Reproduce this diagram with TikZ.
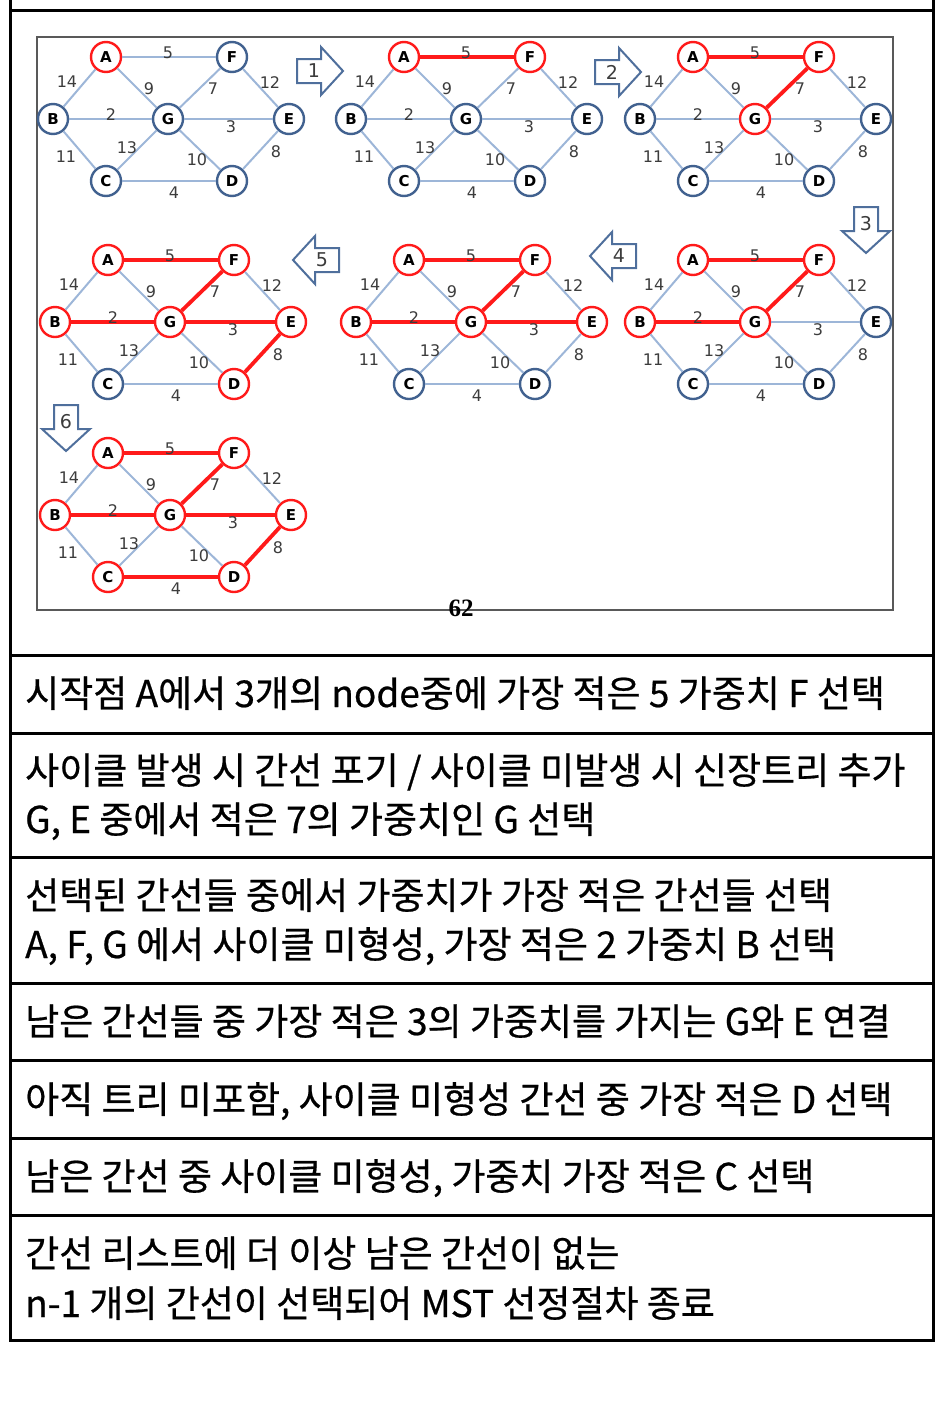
\documentclass[tikz,border=0pt]{standalone}
\usepackage{fontspec}
\setmainfont{DejaVu Sans}
\newfontfamily\krfont[FakeBold=0.6]{Noto Sans CJK KR}
\newfontfamily\pagefont{Liberation Serif}

\definecolor{vtxblue}{HTML}{41618F}
\definecolor{edgeblue}{HTML}{9DB6D8}
\definecolor{mstred}{HTML}{FF1A1A}
\definecolor{wgray}{HTML}{3C3C3C}
\definecolor{arrowblue}{HTML}{4F6F9C}

\tikzset{
  vtx/.style={circle,fill=white,line width=2.4pt,minimum size=30pt,inner sep=0pt,
    font=\fontsize{15}{15}\selectfont\bfseries},
  bnode/.style={vtx,draw=vtxblue},
  rnode/.style={vtx,draw=mstred},
  bedge/.style={draw=edgeblue,line width=2pt},
  redge/.style={draw=mstred,line width=3.8pt},
  weight/.style={text=wgray,inner sep=0pt,font=\fontsize{16}{16}\selectfont},
  steparr/.style={draw=arrowblue,fill=white,line width=2pt},
  steplabel/.style={text=wgray,inner sep=0pt,font=\fontsize{19}{19}\selectfont},
  rowtext/.style={anchor=base west,inner sep=0pt,font=\krfont\fontsize{37}{37}\selectfont},
  rule/.style={line width=3pt,line cap=rect},
  % every vertex and edge starts blue
  plainv/.style={n#1/.style=bnode}, plainv/.list={A,B,C,D,E,F,G},
  plaine/.style={e#1/.style=bedge}, plaine/.list={AF,AB,AG,FG,FE,BG,GE,CG,BC,GD,DE,CD},
  pickv/.style={n#1/.style=rnode}, red nodes/.style={pickv/.list={#1}},
  picke/.style={e#1/.style=redge}, red edges/.style={picke/.list={#1}},
}

% one state of the graph: prefix, position of A, options
\newcommand\mstgraph[3]{%
  \begin{scope}[shift={#2},#3]
    \node[nA] (#1A) at (0,0) {A};
    \node[nF] (#1F) at (126,0) {F};
    \node[nB] (#1B) at (-53,62) {B};
    \node[nG] (#1G) at (62,62) {G};
    \node[nE] (#1E) at (183,62) {E};
    \node[nC] (#1C) at (0,124) {C};
    \node[nD] (#1D) at (126,124) {D};
    \foreach \u/\v/\w/\lx/\ly in {A/F/5/62/-4, A/B/14/-39/25, A/G/9/43/32,
        F/G/7/107/32, F/E/12/164/26, B/G/2/5/58, G/E/3/125/70, C/G/13/21/91,
        B/C/11/-40/100, G/D/10/91/103, D/E/8/170/95, C/D/4/68/136}
      {\path[e\u\v] (#1\u) -- (#1\v);
       \node[weight] (#1w\w) at (\lx,\ly) {\w};}
  \end{scope}}

% block arrow between states: name, centre, angle, label
\newcommand\steparrow[4]{%
  \begin{scope}[shift={#2},rotate=#3]
    \draw[steparr] (-23,-12) -- (1,-12) -- (1,-24) -- (23,0) -- (1,24) -- (1,12) -- (-23,12) -- cycle;
    \node[steplabel] (#1) at (-6,0) {#4};
  \end{scope}}

\begin{document}
\begin{tikzpicture}[x=1pt,y=-1pt]
  \useasboundingbox (0,0) rectangle (944,1414);

  % table
  \foreach \ry in {10,655,733,857,983,1060,1138,1215,1340}
    \draw[rule] (10,\ry) -- (933,\ry);
  \draw[rule] (10,0) -- (10,1340) (933,0) -- (933,1340);

  % slide
  \draw[line width=1.3pt,draw=black!65] (37,37) rectangle (893,610);
  \node[inner sep=0pt,font=\pagefont\bfseries\fontsize{25}{25}\selectfont] (pageno) at (461,608) {62};

  \mstgraph{g0}{(106,57)}{red nodes={A}}
  \mstgraph{g1}{(404,57)}{red nodes={A,F}, red edges={AF}}
  \mstgraph{g2}{(693,57)}{red nodes={A,F,G}, red edges={AF,FG}}
  \mstgraph{g3}{(693,260)}{red nodes={A,F,G,B}, red edges={AF,FG,BG}}
  \mstgraph{g4}{(409,260)}{red nodes={A,F,G,B,E}, red edges={AF,FG,BG,GE}}
  \mstgraph{g5}{(108,260)}{red nodes={A,F,G,B,E,D}, red edges={AF,FG,BG,GE,DE}}
  \mstgraph{g6}{(108,453)}{red nodes={A,F,G,B,E,D,C}, red edges={AF,FG,BG,GE,DE,CD}}

  \steparrow{arr1}{(320,71)}{0}{1}
  \steparrow{arr2}{(618,72)}{0}{2}
  \steparrow{arr3}{(866,230)}{-90}{3}
  \steparrow{arr4}{(613,256)}{180}{4}
  \steparrow{arr5}{(316,260)}{180}{5}
  \steparrow{arr6}{(66,428)}{-90}{6}

  % explanations
  \node[rowtext] (step1) at (25,707) {시작점 A에서 3개의 node중에 가장 적은 5 가중치 F 선택};
  \node[rowtext] (step2a) at (25,784) {사이클 발생 시 간선 포기 / 사이클 미발생 시 신장트리 추가};
  \node[rowtext] (step2b) at (25,833) {G, E 중에서 적은 7의 가중치인 G 선택};
  \node[rowtext] (step3a) at (25,909) {선택된 간선들 중에서 가중치가 가장 적은 간선들 선택};
  \node[rowtext] (step3b) at (25,958) {A, F, G 에서 사이클 미형성, 가장 적은 2 가중치 B 선택};
  \node[rowtext] (step4) at (25,1035) {남은 간선들 중 가장 적은 3의 가중치를 가지는 G와 E 연결};
  \node[rowtext] (step5) at (25,1113) {아직 트리 미포함, 사이클 미형성 간선 중 가장 적은 D 선택};
  \node[rowtext] (step6) at (25,1190) {남은 간선 중 사이클 미형성, 가중치 가장 적은 C 선택};
  \node[rowtext] (step7a) at (25,1267) {간선 리스트에 더 이상 남은 간선이 없는};
  \node[rowtext] (step7b) at (25,1317) {n-1 개의 간선이 선택되어 MST 선정절차 종료};
\end{tikzpicture}
\end{document}
